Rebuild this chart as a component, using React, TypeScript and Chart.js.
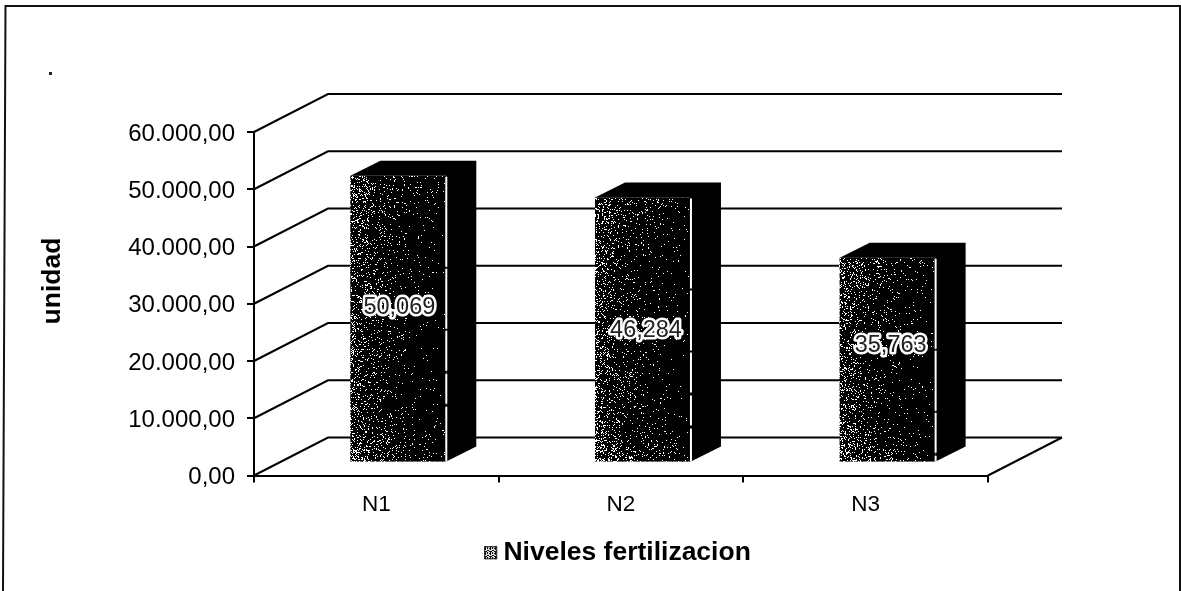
import React, { useEffect, useRef } from "react";
import { Chart, registerables } from "chart.js";

Chart.register(...registerables);

const categories = ["N1", "N2", "N3"];
const seriesName = "Niveles fertilizacion";
const values = [50069, 46284, 35763];
const valueLabels = ["50,069", "46,284", "35,763"];
const yMax = 60000;
const yStep = 10000;
const yTitle = "unidad";

const FONT = "'Liberation Sans', Arial, sans-serif";
const WALL_DX = 74;
const WALL_DY = -38;
const BAR_DX = 22;
const BAR_DY = -13;
const DEPTH_DX = 30;
const DEPTH_DY = -15;
const LABEL_SHIFT_Y = [-11, 1, -14];
const LABEL_SHIFT_X = [1, 3, 3];
const LEGEND_SHIFT_X = -3.5;
const LEGEND_SHIFT_Y = 8;
const LEGEND_FONT_SIZE = 26.5;
const SWATCH = 13;

function hash(a: number, b: number) {
  let h = (Math.imul(a, 374761393) + Math.imul(b, 668265263)) | 0;
  h = Math.imul(h ^ (h >>> 13), 1274126177);
  h ^= h >>> 16;
  return (h >>> 0) / 4294967296;
}

function makeSwatch() {
  const c = document.createElement("canvas");
  c.width = 5;
  c.height = 5;
  const g = c.getContext("2d") as CanvasRenderingContext2D;
  for (let a = 0; a < 5; a++) {
    for (let b = 0; b < 5; b++) {
      g.fillStyle = hash(a + 3, b + 7) < 0.4 ? "#ddd" : "#111";
      g.fillRect(a, b, 1, 1);
    }
  }
  return g.createPattern(c, "repeat");
}

const depthPlugin = {
  id: "depth3d",
  afterLayout(chart: any) {
    const lg = chart.legend;
    lg.left += LEGEND_SHIFT_X;
    lg.right += LEGEND_SHIFT_X;
    lg.top += LEGEND_SHIFT_Y;
    lg.bottom += LEGEND_SHIFT_Y;
  },
  beforeDraw(chart: any) {
    const { ctx, height } = chart;
    ctx.save();
    ctx.fillStyle = "#fff";
    ctx.fillRect(0, 0, chart.width, height);
    ctx.strokeStyle = "#111";
    ctx.lineWidth = 2;
    ctx.beginPath();
    ctx.moveTo(3, height);
    ctx.lineTo(5.5, 6);
    ctx.lineTo(1180, 6);
    ctx.lineTo(1180, height);
    ctx.stroke();
    ctx.fillStyle = "#222";
    ctx.fillRect(49, 72, 3, 3);
    ctx.restore();
  },
  beforeDatasetsDraw(chart: any) {
    const { ctx, scales } = chart;
    const { x, y } = scales;
    ctx.save();
    ctx.strokeStyle = "#000";
    ctx.lineWidth = 2;
    ctx.beginPath();
    for (let v = 0; v <= yMax; v += yStep) {
      const py = y.getPixelForValue(v);
      ctx.moveTo(x.left, py);
      ctx.lineTo(x.left + WALL_DX, py + WALL_DY);
      ctx.lineTo(x.right + WALL_DX, py + WALL_DY);
    }
    const base = y.getPixelForValue(0);
    ctx.moveTo(x.right, base);
    ctx.lineTo(x.right + WALL_DX, base + WALL_DY);
    ctx.stroke();
    ctx.restore();
    ctx.save();
    ctx.translate(BAR_DX, BAR_DY);
  },
  afterDatasetsDraw(chart: any) {
    const { ctx } = chart;
    const meta = chart.getDatasetMeta(0);
    meta.data.forEach((bar: any, i: number) => {
      const l = bar.x - bar.width / 2;
      const r = bar.x + bar.width / 2;
      const t = bar.y;
      const b = bar.base;
      ctx.fillStyle = "#000";
      ctx.fillRect(l, t, r - l, b - t);
      ctx.beginPath();
      ctx.moveTo(l, t);
      ctx.lineTo(l + DEPTH_DX, t + DEPTH_DY);
      ctx.lineTo(r + DEPTH_DX, t + DEPTH_DY);
      ctx.lineTo(r + DEPTH_DX, b + DEPTH_DY);
      ctx.lineTo(r, b);
      ctx.lineTo(r, t);
      ctx.closePath();
      ctx.fill();
      // scanned speckle: dense at the left and bottom of the front face
      ctx.fillStyle = "#fff";
      for (let px = Math.floor(l); px < r - 2; px++) {
        for (let py = Math.floor(t) + 1; py < b; py++) {
          const fx = (px - l) / (r - l);
          const density =
            0.2 * Math.exp(-4 * fx) +
            0.16 * Math.exp(-(b - py) / 22) * (1 - 0.8 * fx) +
            0.07 * Math.exp(-(py - t) / 40) * (1 - 0.6 * fx) +
            0.004;
          if (hash(px + i * 500, py) < density) ctx.fillRect(px, py, 1, 1);
        }
      }
      // white edge between front and side
      ctx.strokeStyle = "#fff";
      ctx.lineWidth = 2;
      ctx.setLineDash([90, 2, 60, 2, 40, 3, 30, 3]);
      ctx.beginPath();
      ctx.moveTo(r, t + 1);
      ctx.lineTo(r, b);
      ctx.stroke();
      ctx.setLineDash([]);
      // value label
      const cy = (t + b) / 2 + LABEL_SHIFT_Y[i];
      const cx = bar.x + LABEL_SHIFT_X[i];
      ctx.font = `23.5px ${FONT}`;
      ctx.textAlign = "center";
      ctx.textBaseline = "middle";
      ctx.lineJoin = "round";
      ctx.strokeStyle = "#fff";
      ctx.lineWidth = 5;
      ctx.strokeText(valueLabels[i], cx, cy);
      ctx.fillStyle = "#222";
      ctx.fillText(valueLabels[i], cx, cy);
    });
    ctx.restore();
  },
  afterDraw(chart: any) {
    const { ctx } = chart;
    const lg = chart.legend;
    const pad = lg.options.labels.padding;
    // legend swatch, placed at the start of the legend line
    const sx = (lg.left + pad + lg.right - lg.lineWidths[0]) / 2;
    const sy = lg.top + pad + (LEGEND_FONT_SIZE - SWATCH) / 2;
    ctx.save();
    ctx.fillStyle = "#fff";
    ctx.fillRect(sx - 1, sy - 1, SWATCH + 2, SWATCH + 2);
    ctx.fillStyle = chart.data.datasets[0].backgroundColor;
    ctx.fillRect(sx, sy, SWATCH, SWATCH);
    ctx.strokeStyle = "#222";
    ctx.lineWidth = 1;
    ctx.strokeRect(sx + 0.5, sy + 0.5, SWATCH - 1, SWATCH - 1);
    ctx.restore();
    // y axis title
    ctx.save();
    ctx.translate(60, 281);
    ctx.rotate(-Math.PI / 2);
    ctx.font = `bold 26.5px ${FONT}`;
    ctx.fillStyle = "#000";
    ctx.textAlign = "center";
    ctx.textBaseline = "alphabetic";
    ctx.fillText(yTitle, 0, 0);
    ctx.restore();
  },
};

export default function App() {
  const ref = useRef<HTMLCanvasElement>(null);
  useEffect(() => {
    const chart = new Chart(ref.current as HTMLCanvasElement, {
      type: "bar",
      data: {
        labels: categories,
        datasets: [
          {
            label: seriesName,
            data: values,
            backgroundColor: makeSwatch(),
            barPercentage: 0.392,
            categoryPercentage: 1,
          },
        ],
      },
      plugins: [depthPlugin],
      options: {
        responsive: false,
        animation: false,
        layout: { padding: { left: 36, right: 193, top: 132, bottom: 23 } },
        plugins: {
          tooltip: { enabled: false },
          legend: {
            position: "bottom",
            fullSize: false,
            labels: {
              color: "#000",
              font: { family: FONT, size: LEGEND_FONT_SIZE, weight: "bold" },
              boxWidth: 6,
              boxHeight: SWATCH,
              padding: 4,
            },
          },
        },
        scales: {
          x: {
            grid: { drawOnChartArea: false, color: "#000", lineWidth: 2, tickLength: 7 },
            border: { color: "#000", width: 2 },
            ticks: { color: "#000", font: { family: FONT, size: 22.5 }, padding: 9, maxRotation: 0 },
            afterFit: (s: any) => { s.height = 52; },
          },
          y: {
            min: 0,
            max: yMax,
            grid: { drawOnChartArea: false, color: "#000", lineWidth: 2, tickLength: 7 },
            border: { color: "#000", width: 2 },
            ticks: {
              stepSize: yStep,
              color: "#000",
              font: { family: FONT, size: 24 },
              padding: 12,
              labelOffset: 2,
              callback: (v: any) =>
                Number(v).toLocaleString("de-DE", { minimumFractionDigits: 2, maximumFractionDigits: 2 }),
            },
            afterFit: (s: any) => { s.width = 218; },
          },
        },
      },
    } as any);
    return () => chart.destroy();
  }, []);
  return (
    <canvas
      ref={ref}
      width={1181}
      height={591}
      style={{ position: "fixed", left: 0, top: 0, width: 1181, height: 591, display: "block" }}
    />
  );
}
